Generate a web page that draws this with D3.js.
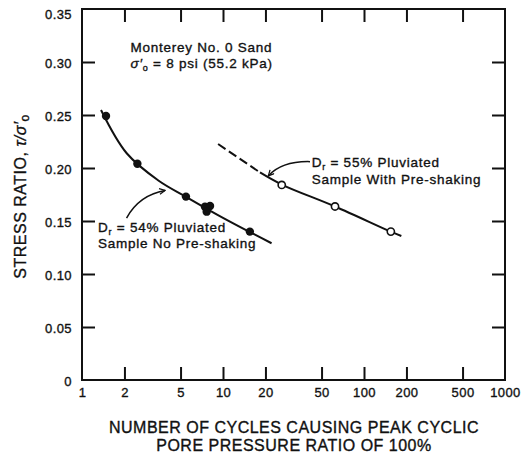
<!DOCTYPE html>
<html>
<head>
<meta charset="utf-8">
<script src="https://cdn.jsdelivr.net/npm/d3@7"></script>
<style>
  html, body { margin: 0; padding: 0; background: #fff; }
  svg { display: block; font-family: "Liberation Sans", Arial, Helvetica, sans-serif; }
  text { stroke: #111; stroke-width: 0.35px; }
</style>
</head>
<body>
<svg id="chart" width="525" height="456"></svg>
<script>
// ---- data ----
const xTickValues = [1, 2, 5, 10, 20, 50, 100, 200, 500, 1000];
const xTickLabels = ["1", "2", "5", "10", "20", "50", "100", "200", "500", "1000"];
const yTickValues = [0, 0.05, 0.10, 0.15, 0.20, 0.25, 0.30, 0.35];
const yTickLabels = ["0", "0.05", "0.10", "0.15", "0.20", "0.25", "0.30", "0.35"];

// Dr = 54% pluviated, no pre-shaking (filled points)
const noPreCycles = [1.48, 2.47, 5.46, 7.45, 8.09, 7.66, 15.5];
const noPreRatio  = [0.249, 0.204, 0.173, 0.1635, 0.1642, 0.1588, 0.140];
// fitted curve
const noPreCurveCycles = [1.364, 2.075, 3.5, 5.46, 10, 22.1];
const noPreCurveRatio  = [0.2547, 0.2139, 0.188, 0.1729, 0.153, 0.129];

// Dr = 55% pluviated, with pre-shaking (open points)
const preCycles = [26.1, 62.3, 155];
const preRatio  = [0.184, 0.1637, 0.140];
// fitted curve: dashed extrapolation + solid part
const preDashCycles = [9.23, 18.3];
const preDashRatio  = [0.2226, 0.1958];
const preCurveCycles = [18.3, 26.1, 62.3, 155, 184];
const preCurveRatio  = [0.1958, 0.1844, 0.1637, 0.1399, 0.1358];

// ---- layout ----
const svg = d3.select("#chart");
const x = d3.scaleLog().domain([1, 1000]).range([82, 505]);
const y = d3.scaleLinear().domain([0, 0.35]).range([380, 9]);
const TICK = 13;
const font = "Liberation Sans, Arial, Helvetica, sans-serif";

const zip = (a, b) => a.map((v, i) => [v, b[i]]);

// axes
const gBottom = svg.append("g").attr("transform", `translate(0,${y(0)})`)
  .call(d3.axisBottom(x).tickValues(xTickValues)
    .tickFormat((d, i) => xTickLabels[i]).tickSize(-TICK).tickPadding(8));
const gTop = svg.append("g").attr("transform", `translate(0,${y(0.35)})`)
  .call(d3.axisTop(x).tickValues(xTickValues.slice(1, -1)).tickFormat("").tickSize(-TICK));
const gLeft = svg.append("g").attr("transform", `translate(${x(1)},0)`)
  .call(d3.axisLeft(y).tickValues(yTickValues)
    .tickFormat((d, i) => yTickLabels[i]).tickSize(-TICK).tickPadding(10));
const gRight = svg.append("g").attr("transform", `translate(${x(1000)},0)`)
  .call(d3.axisRight(y).tickValues(yTickValues.slice(1, -1)).tickFormat("").tickSize(-TICK));

[gBottom, gTop, gLeft, gRight].forEach(g => {
  g.select(".domain").remove();
  g.selectAll(".tick line").attr("stroke", "#111").attr("stroke-width", 2);
  g.selectAll(".tick text").attr("fill", "#111")
    .style("font-family", font).style("font-size", "13px").style("letter-spacing", "0.4px");
});
gBottom.selectAll(".tick line").filter(d => d === 1 || d === 1000).remove();
gLeft.selectAll(".tick line").filter(d => d === 0 || d === 0.35).remove();
gLeft.selectAll(".tick text").attr("dy", d => d === 0.35 ? "0.72em" : "0.45em");

// frame
svg.append("rect")
  .attr("x", x(1)).attr("y", y(0.35))
  .attr("width", x(1000) - x(1)).attr("height", y(0) - y(0.35))
  .attr("fill", "none").attr("stroke", "#111").attr("stroke-width", 2);

// curves
const line = d3.line().x(d => x(d[0])).y(d => y(d[1])).curve(d3.curveCatmullRom.alpha(0.5));
svg.append("path").datum(zip(noPreCurveCycles, noPreCurveRatio))
  .attr("d", line).attr("fill", "none").attr("stroke", "#111").attr("stroke-width", 2);
svg.append("path").datum(zip(preDashCycles, preDashRatio))
  .attr("d", line).attr("fill", "none").attr("stroke", "#111").attr("stroke-width", 2)
  .attr("stroke-dasharray", "9,4");
svg.append("path").datum(zip(preCurveCycles, preCurveRatio))
  .attr("d", line).attr("fill", "none").attr("stroke", "#111").attr("stroke-width", 2);

// points
svg.append("g").selectAll("circle").data(zip(noPreCycles, noPreRatio)).join("circle")
  .attr("cx", d => x(d[0])).attr("cy", d => y(d[1])).attr("r", 4.2).attr("fill", "#111");
svg.append("g").selectAll("circle").data(zip(preCycles, preRatio)).join("circle")
  .attr("cx", d => x(d[0])).attr("cy", d => y(d[1])).attr("r", 3.6)
  .attr("fill", "#fff").attr("stroke", "#111").attr("stroke-width", 1.6);

// arrows
svg.append("defs").append("marker")
  .attr("id", "ah").attr("viewBox", "0 0 10 10").attr("refX", 9).attr("refY", 5)
  .attr("markerWidth", 7).attr("markerHeight", 7).attr("orient", "auto")
  .attr("markerUnits", "userSpaceOnUse")
  .append("path").attr("d", "M1,1 L9,5 L1,9").attr("fill", "none")
  .attr("stroke", "#111").attr("stroke-width", 1.8);

function arrow(p0, c, p1) {
  const path = d3.path();
  path.moveTo(x(p0[0]), y(p0[1]));
  path.quadraticCurveTo(x(c[0]), y(c[1]), x(p1[0]), y(p1[1]));
  svg.append("path").attr("d", path.toString()).attr("fill", "none")
    .attr("stroke", "#111").attr("stroke-width", 1.5).attr("marker-end", "url(#ah)");
}
arrow([2.07, 0.1528], [2.54, 0.1745], [3.88, 0.1788]);
arrow([41.4, 0.206], [26.2, 0.2066], [20.96, 0.1925]);

// annotation text
function label(xv, yv) {
  return svg.append("text").attr("x", x(xv)).attr("y", y(yv))
    .attr("fill", "#111").style("font-family", font).style("font-size", "13.5px")
    .style("letter-spacing", "0.75px");
}
label(2.21, 0.3094).text("Monterey No. 0 Sand");
const s = label(2.21, 0.2943);
s.append("tspan").style("font-style", "italic").text("σ′");
s.append("tspan").attr("dy", 3).style("font-size", "9px").text("o");
s.append("tspan").attr("dy", -3).text(" = 8 psi (55.2 kPa)");

function drLabel(xv, yv, txt) {
  const t = label(xv, yv);
  t.append("tspan").text("D");
  t.append("tspan").attr("dy", 3).style("font-size", "9px").text("r");
  t.append("tspan").attr("dy", -3).text(txt);
}
drLabel(1.30, 0.1396, " = 54% Pluviated");
label(1.30, 0.1245).text("Sample No Pre-shaking");
drLabel(42.6, 0.2009, " = 55% Pluviated");
label(42.6, 0.1849).text("Sample With Pre-shaking");

// axis titles
const xt = svg.append("text").attr("text-anchor", "middle").attr("fill", "#111")
  .style("font-family", font).style("font-size", "16px").style("letter-spacing", "0.5px");
xt.append("tspan").attr("x", 294).attr("y", 433).text("NUMBER OF CYCLES CAUSING PEAK CYCLIC");
xt.append("tspan").attr("x", 294).attr("y", 451).text("PORE PRESSURE RATIO OF 100%");

const yt = svg.append("text").attr("text-anchor", "middle").attr("fill", "#111")
  .attr("transform", `translate(26,${(y(0) + y(0.35)) / 2 + 2}) rotate(-90)`)
  .style("font-family", font).style("font-size", "16px").style("letter-spacing", "0.5px");
yt.append("tspan").text("STRESS RATIO, ");
yt.append("tspan").style("font-style", "italic").text("τ/σ′");
yt.append("tspan").attr("dy", 3).style("font-size", "12px").text("o");
</script>
</body>
</html>
